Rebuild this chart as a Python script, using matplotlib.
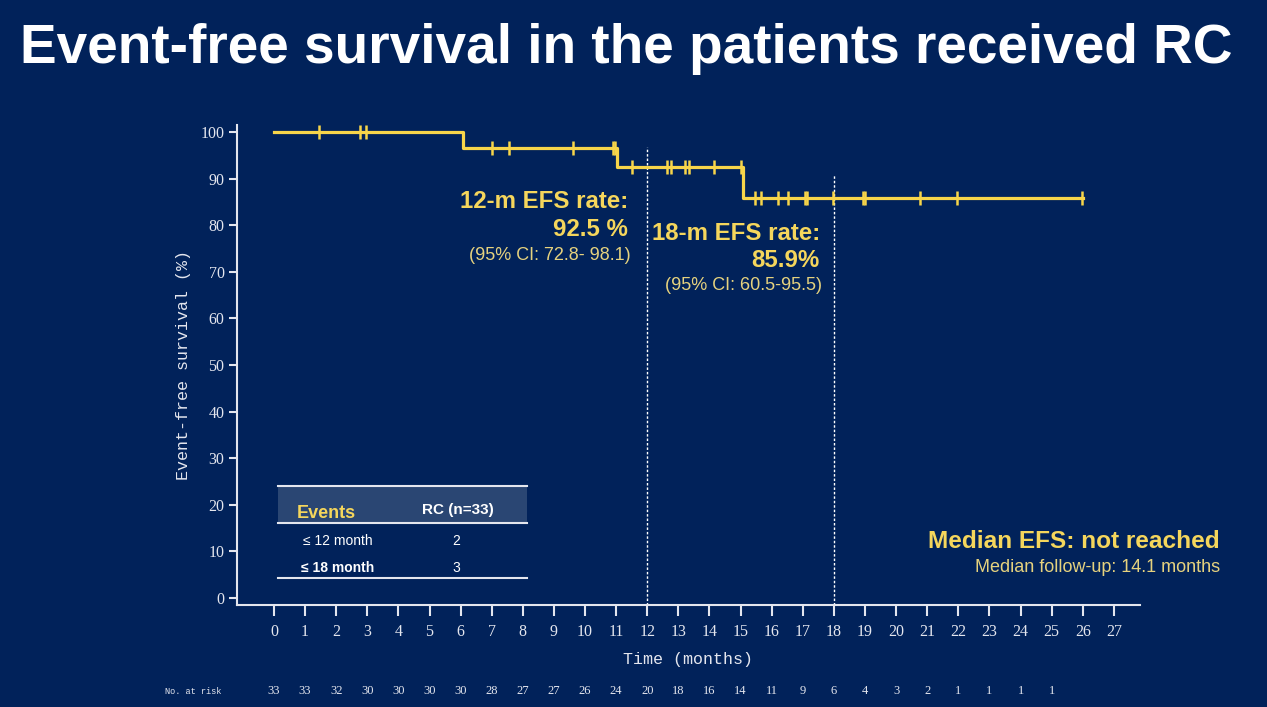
import numpy as np
import matplotlib.pyplot as plt

# Kaplan-Meier step data
event_times = [0, 6.08, 11.04, 15.07, 26.0]
surv_pct = [100, 96.5, 92.5, 85.9, 85.9]
censor_times = [1.46, 2.75, 2.96, 7.0, 7.54, 9.62, 10.9, 10.97, 11.52,
                12.62, 12.75, 13.2, 13.35, 14.14, 15.0, 15.47, 15.64, 16.2,
                16.53, 17.08, 17.15, 17.98, 18.94, 19.0, 20.77, 21.95, 25.96]

risk_times = list(range(26))
at_risk = [33, 33, 32, 30, 30, 30, 30, 28, 27, 27, 26, 24, 20, 18, 16, 14,
           11, 9, 6, 4, 3, 2, 1, 1, 1, 1]

BG = "#01225A"
YEL = "#F7D54A"
YEL_TXT = "#F5D65C"
YEL_SOFT = "#E6D27E"
AXC = "#E4E6EE"
SERIF = "Liberation Serif"
MONO = "Liberation Mono"
SANS = "Liberation Sans"

fig = plt.figure(figsize=(12.67, 7.07), dpi=100, facecolor=BG)
ax = fig.add_axes([237 / 1267, 102 / 707, 903 / 1267, 480 / 707])
ax.set_facecolor(BG)

ax.step(event_times, surv_pct, where="post", color=YEL, lw=2.3, zorder=3)

# censor marks sit on the current survival level
idx = np.searchsorted(event_times, censor_times, side="right") - 1
censor_y = np.array(surv_pct)[idx]
ax.plot(censor_times, censor_y, ls="none", marker="|", ms=10, mew=1.8,
        color=YEL, zorder=4)

# landmark lines
ax.vlines(12, -1.5, 96.8, colors="white", linestyles=(0, (1.8, 1.4)), lw=1)
ax.vlines(18, -1.5, 90.8, colors="white", linestyles=(0, (1.8, 1.4)), lw=1)

ax.set_xlim(-1.19, 27.84)
ax.set_ylim(-1.5, 101.5)
ax.set_xticks(range(28))
ax.set_yticks(range(0, 101, 10))
for s in ["top", "right"]:
    ax.spines[s].set_visible(False)
for s in ["left", "bottom"]:
    ax.spines[s].set_color(AXC)
    ax.spines[s].set_linewidth(1.5)
ax.tick_params(axis="both", colors=AXC, width=1.5, direction="out")
ax.tick_params(axis="x", length=8, pad=6)
ax.tick_params(axis="y", length=6, pad=3)
for lab in ax.get_xticklabels() + ax.get_yticklabels():
    lab.set_fontfamily(SERIF)
    lab.set_fontsize(11.5)
    lab.set_color(AXC)

ax.set_xlabel("Time (months)", family=MONO, fontsize=12, color=AXC, labelpad=8)
ax.set_ylabel("Event-free survival (%)", family=MONO, fontsize=12, color=AXC,
              labelpad=7)

# number at risk row
risk_y = 1 - 691 / 707
fig.text(165 / 1267, risk_y, "No. at risk", family=MONO, fontsize=6.2,
         color=AXC, va="center")
for t, n in zip(risk_times, at_risk):
    ax.annotate(str(n), xy=(t, risk_y), xycoords=("data", "figure fraction"),
                family=SERIF, fontsize=9, color=AXC, ha="center",
                va="center", annotation_clip=False)

# annotations
ax.text(11.38, 85.0, "12-m EFS rate:", family=SANS, weight="bold",
        fontsize=17.3, color=YEL_TXT, ha="right", va="center")
ax.text(11.38, 79.0, "92.5 %", family=SANS, weight="bold", fontsize=17.3,
        color=YEL_TXT, ha="right", va="center")
ax.text(11.45, 73.6, "(95% CI: 72.8- 98.1)", family=SANS, fontsize=13,
        color=YEL_SOFT, ha="right", va="center")
ax.text(17.55, 78.3, "18-m EFS rate:", family=SANS, weight="bold",
        fontsize=17.3, color=YEL_TXT, ha="right", va="center")
ax.text(17.55, 72.5, "85.9%", family=SANS, weight="bold", fontsize=17.3,
        color=YEL_TXT, ha="right", va="center")
ax.text(17.61, 67.0, "(95% CI: 60.5-95.5)", family=SANS, fontsize=13,
        color=YEL_SOFT, ha="right", va="center")

fig.text(1220 / 1267, 1 - 542 / 707, "Median EFS: not reached", family=SANS,
         weight="bold", fontsize=17.6, color=YEL_TXT, ha="right", va="center")
fig.text(1220 / 1267, 1 - 568 / 707, "Median follow-up: 14.1 months",
         family=SANS, fontsize=13, color=YEL_SOFT, ha="right", va="center")

# events table
x0, x1 = 0.13, 8.13
ax.fill_between([x0, x1], 16.1, 24.0, color="#2A4673", lw=0, zorder=1)
for yy in [24.0, 16.1, 4.3]:
    ax.plot([x0, x1], [yy, yy], color=AXC, lw=1.5, zorder=2)
ax.text(0.74, 18.2, "Events", family=SANS, weight="bold", fontsize=13,
        color=YEL_TXT, va="center")
ax.text(5.9, 18.9, "RC (n=33)", family=SANS, weight="bold", fontsize=11,
        color="white", ha="center", va="center")
ax.text(0.93, 12.2, "≤ 12 month", family=SANS, fontsize=10, color="white",
        va="center")
ax.text(5.85, 12.2, "2", family=SANS, fontsize=10, color="white",
        ha="center", va="center")
ax.text(0.87, 6.4, "≤ 18 month", family=SANS, weight="bold", fontsize=10,
        color="white", va="center")
ax.text(5.85, 6.4, "3", family=SANS, fontsize=10, color="white",
        ha="center", va="center")

fig.text(20 / 1267, 1 - 49 / 707, "Event-free survival in the patients received RC",
         family=SANS, weight="bold", fontsize=39.6, color="white", va="center")

fig.savefig("out.png", dpi=100, facecolor=BG)
